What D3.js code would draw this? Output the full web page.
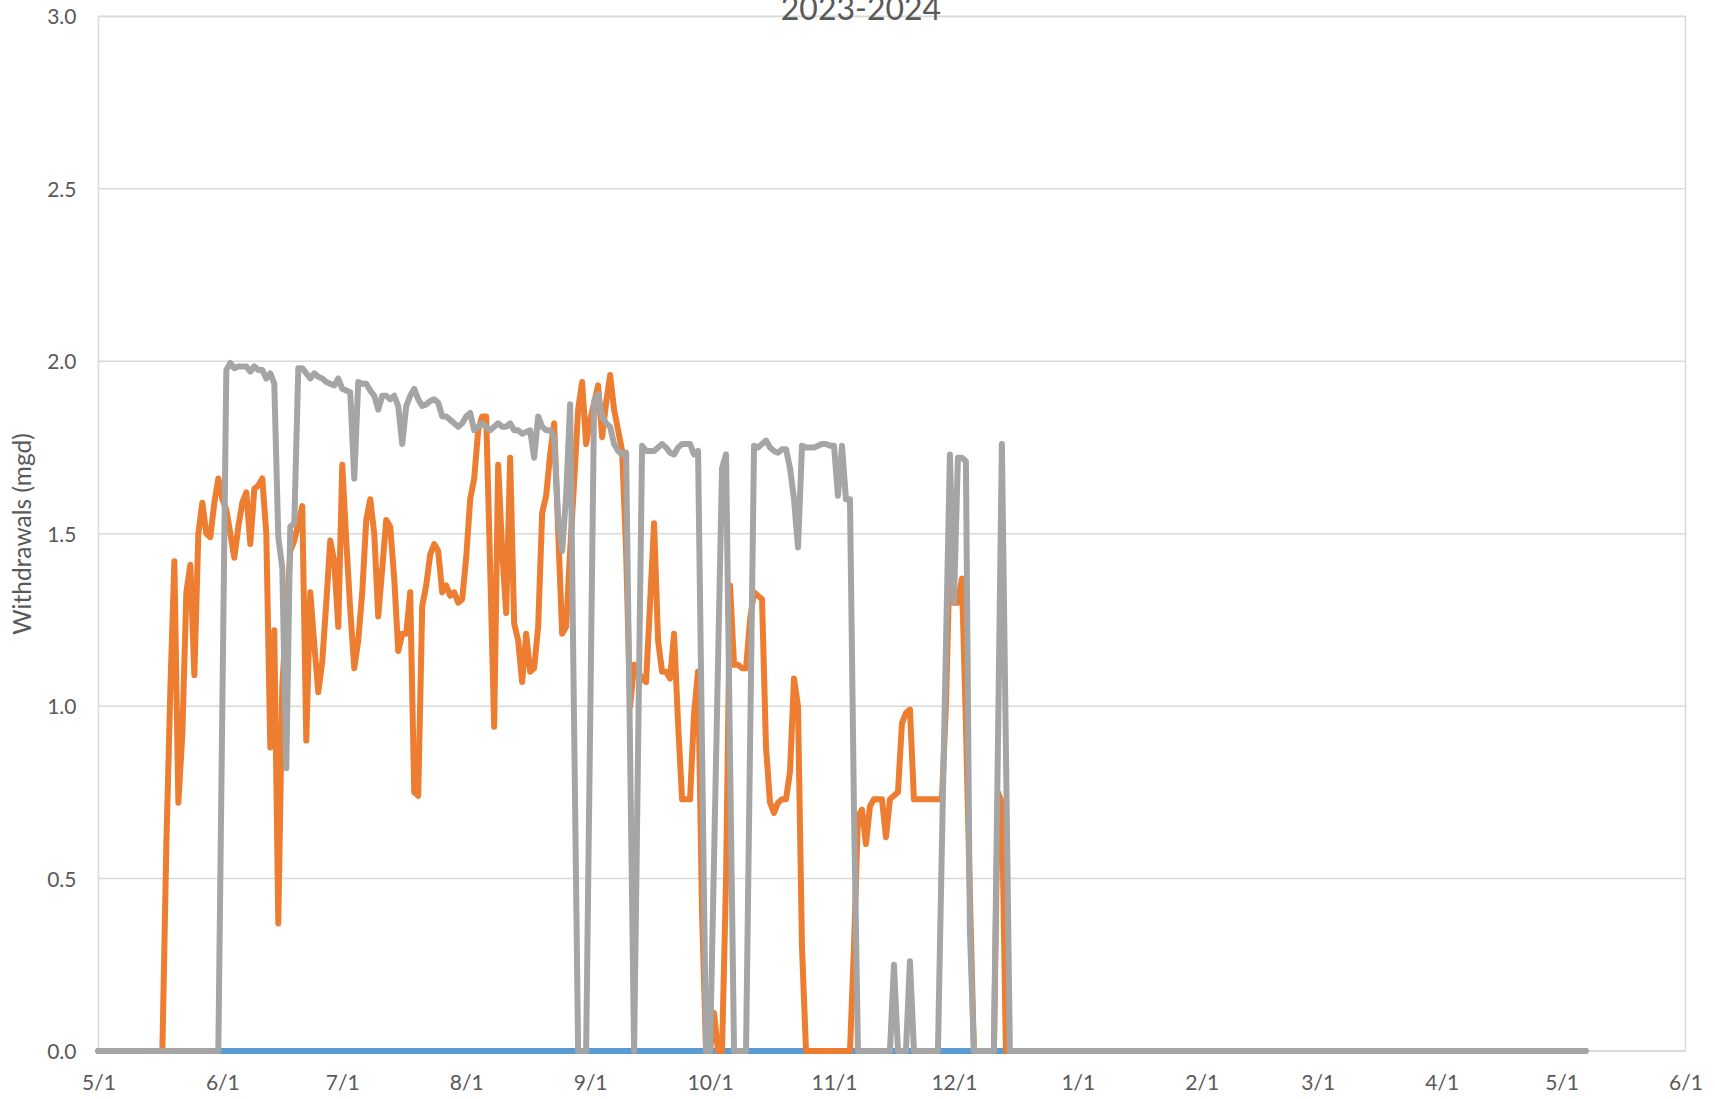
<!DOCTYPE html>
<html>
<head>
<meta charset="utf-8">
<script src="https://cdn.jsdelivr.net/npm/d3@7"></script>
<style>
  html, body { margin: 0; padding: 0; background: #ffffff; }
  svg { display: block; }
  text { font-family: Lato, "Open Sans", "Liberation Sans", sans-serif; fill: #595959; }
</style>
</head>
<body>
<svg id="chart" width="1715" height="1099"></svg>
<script>
// ---------------- DATA ----------------
const chartTitle = "2023-2024";
const yAxisTitle = "Withdrawals (mgd)";
const xTickDates = ["2023-05-01","2023-06-01","2023-07-01","2023-08-01","2023-09-01","2023-10-01",
  "2023-11-01","2023-12-01","2024-01-01","2024-02-01","2024-03-01","2024-04-01","2024-05-01","2024-06-01"];
const yTickValues = [0, 0.5, 1.0, 1.5, 2.0, 2.5, 3.0];

// daily values starting 2023-05-01
const firstDate = "2023-05-01";
// after the daily block every series stays flat at zero up to this date
const tailDate = "2024-05-07";
const tailValue = 0;

// Series 1 (blue): flat at zero for the whole period
const blueDates = ["2023-05-01", "2024-05-07"];
const blueValues = [0, 0];

// Series 2 (orange), one value per day
const orangeMay = [0,0,0,0,0,0,0,0,0,0, 0,0,0,0,0,0,0, 0.6,1.05,1.42,0.72,0.92,1.33,1.41,1.09,1.50,1.59,1.50,1.49,1.59,1.66];
const orangeJun = [1.60,1.57,1.50,1.43,1.52,1.59,1.62,1.47,1.63,1.64, 1.66,1.50,0.88,1.22,0.37,1.06,1.25,1.45,1.48,1.53, 1.58,0.90,1.33,1.18,1.04,1.13,1.30,1.48,1.42,1.23];
const orangeJul = [1.70,1.48,1.28,1.11,1.19,1.33,1.54,1.60,1.50,1.26, 1.40,1.54,1.52,1.37,1.16,1.21,1.21,1.33,0.75,0.74, 1.29,1.35,1.44,1.47,1.45,1.33,1.35,1.32,1.33,1.30, 1.31];
const orangeAug = [1.43,1.60,1.66,1.80,1.84,1.84,1.40,0.94,1.70,1.45, 1.27,1.72,1.24,1.19,1.07,1.21,1.10,1.11,1.23,1.56, 1.61,1.73,1.82,1.51,1.21,1.23,1.45,1.65,1.86,1.94, 1.76];
const orangeSep = [1.83,1.88,1.93,1.78,1.88,1.96,1.86,1.80,1.74,1.45, 1.00,1.12,1.10,1.08,1.07,1.30,1.53,1.19,1.10,1.10, 1.08,1.21,0.95,0.73,0.73,0.73,0.98,1.10,0.40,0];
const orangeOct = [0,0.11,0,0,0.5,1.35,1.12,1.12,1.11,1.11, 1.25,1.33,1.32,1.31,0.88,0.72,0.69,0.72,0.73,0.73, 0.81,1.08,1.00,0.30,0,0,0,0,0,0, 0];
const orangeNov = [0,0,0,0,0,0.3,0.68,0.70,0.60,0.71, 0.73,0.73,0.73,0.62,0.73,0.74,0.75,0.95,0.98,0.99, 0.73,0.73,0.73,0.73,0.73,0.73,0.73,0.73,1.0,1.45];
const orangeDec = [1.30,1.30,1.37,0.95,0.45,0,0,0,0,0, 0,0.75,0.72,0,0,0,0];

// Series 3 (gray), one value per day
const grayMay = [0,0,0,0,0,0,0,0,0,0, 0,0,0,0,0,0,0,0,0,0, 0,0,0,0,0,0,0,0,0,0, 0];
const grayJun = [1.0,1.975,1.995,1.98,1.985,1.985,1.985,1.97,1.985,1.975, 1.975,1.95,1.965,1.935,1.49,1.40,0.82,1.52,1.53,1.98, 1.98,1.965,1.95,1.965,1.955,1.95,1.94,1.935,1.93,1.95];
const grayJul = [1.92,1.915,1.91,1.66,1.94,1.935,1.935,1.915,1.90,1.86, 1.90,1.90,1.89,1.90,1.87,1.76,1.87,1.90,1.92,1.89, 1.87,1.875,1.885,1.89,1.88,1.84,1.84,1.83,1.82,1.81, 1.82];
const grayAug = [1.84,1.85,1.80,1.81,1.82,1.81,1.80,1.81,1.82,1.81, 1.81,1.82,1.80,1.80,1.79,1.795,1.80,1.72,1.84,1.81, 1.80,1.80,1.78,1.545,1.45,1.61,1.875,0.94,0,0, 0];
const graySep = [0.94,1.885,1.905,1.84,1.82,1.81,1.76,1.74,1.73,1.735, 0.87,0,0.88,1.755,1.74,1.74,1.74,1.75,1.76,1.75, 1.735,1.73,1.75,1.76,1.76,1.76,1.73,1.74,0.87,0];
const grayOct = [0,0.56,1.13,1.69,1.73,0.85,0,0,0,0, 0.88,1.755,1.75,1.76,1.77,1.75,1.74,1.735,1.745,1.745, 1.69,1.60,1.46,1.755,1.75,1.75,1.75,1.755,1.76,1.76, 1.755];
const grayNov = [1.755,1.61,1.755,1.60,1.60,0.7,0,0,0,0, 0,0,0,0,0,0.25,0,0,0,0.26, 0,0,0,0,0,0,0,0.6,1.17,1.73];
const grayDec = [1.30,1.72,1.72,1.71,0.35,0,0,0,0,0, 0,0.88,1.76,0.88,0,0,0];

const seriesColors = ["#5B9BD5", "#ED7D31", "#A5A5A5"];

// ---------------- BUILD ----------------
const parse = d3.utcParse("%Y-%m-%d");
const start = parse(firstDate);

function daily(values) {
  const pts = values.map((v, i) => ({ date: d3.utcDay.offset(start, i), value: v }));
  pts.push({ date: parse(tailDate), value: tailValue });
  return pts;
}
const orangeValues = [].concat(orangeMay, orangeJun, orangeJul, orangeAug, orangeSep, orangeOct, orangeNov, orangeDec);
const grayValues = [].concat(grayMay, grayJun, grayJul, grayAug, graySep, grayOct, grayNov, grayDec);

const series = [
  blueDates.map((d, i) => ({ date: parse(d), value: blueValues[i] })),
  daily(orangeValues),
  daily(grayValues)
];

// ---------------- LAYOUT ----------------
const W = 1715, H = 1099;
const plot = { left: 98.4, right: 1685.5, top: 16.4, bottom: 1051 };

const svg = d3.select("#chart");
svg.append("rect").attr("width", W).attr("height", H).attr("fill", "#ffffff");

const x = d3.scaleUtc()
  .domain([parse(xTickDates[0]), parse(xTickDates[xTickDates.length - 1])])
  .range([plot.left, plot.right]);
const y = d3.scaleLinear().domain([0, 3]).range([plot.bottom, plot.top]);

// gridlines
svg.append("g")
  .selectAll("line")
  .data(yTickValues)
  .join("line")
  .attr("x1", plot.left).attr("x2", plot.right)
  .attr("y1", d => y(d)).attr("y2", d => y(d))
  .attr("stroke", "#d9d9d9").attr("stroke-width", 1.5);

// plot area border
svg.append("rect")
  .attr("x", plot.left).attr("y", plot.top)
  .attr("width", plot.right - plot.left).attr("height", plot.bottom - plot.top)
  .attr("fill", "none").attr("stroke", "#d9d9d9").attr("stroke-width", 1.5);

// y axis labels
const yAxis = d3.axisLeft(y).tickValues(yTickValues).tickFormat(d3.format(".1f")).tickSize(0).tickPadding(0);
const gy = svg.append("g").attr("transform", `translate(${76.5},0)`).call(yAxis);
gy.select(".domain").remove();
gy.selectAll("text").attr("font-size", 21).attr("fill", "#595959")
  .style("font-family", "Lato, 'Open Sans', sans-serif").attr("dy", "0.36em");

// x axis labels
const fmt = d3.utcFormat("%-m/%-d");
const xAxis = d3.axisBottom(x).tickValues(xTickDates.map(parse)).tickFormat(fmt).tickSize(0).tickPadding(0);
const gx = svg.append("g").attr("transform", `translate(0,${1082})`).call(xAxis);
gx.select(".domain").remove();
gx.selectAll("text").attr("font-size", 21).attr("fill", "#595959")
  .style("font-family", "Lato, 'Open Sans', sans-serif").attr("y", 0).attr("dy", "0.36em");

// lines
const line = d3.line().x(d => x(d.date)).y(d => y(d.value));
svg.append("g")
  .selectAll("path")
  .data(series)
  .join("path")
  .attr("d", line)
  .attr("fill", "none")
  .attr("stroke", (d, i) => seriesColors[i])
  .attr("stroke-width", 6)
  .attr("stroke-linejoin", "round")
  .attr("stroke-linecap", "round");

// title (partly above the top edge, as in the original)
svg.append("text")
  .attr("x", 861).attr("y", 19.5)
  .attr("text-anchor", "middle")
  .attr("font-size", 32)
  .text(chartTitle);

// y axis title
svg.append("text")
  .attr("transform", `translate(22,534) rotate(-90)`)
  .attr("text-anchor", "middle")
  .attr("dy", "0.36em")
  .attr("font-size", 24.5)
  .text(yAxisTitle);
</script>
</body>
</html>
